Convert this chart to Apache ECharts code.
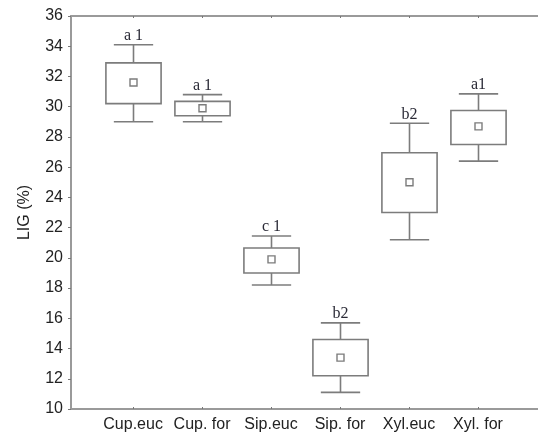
<!DOCTYPE html>
<html>
<head>
<meta charset="utf-8">
<script src="https://cdn.jsdelivr.net/npm/echarts@6/dist/echarts.min.js"></script>
<style>
  html, body { margin: 0; padding: 0; background: #fff; }
  #chart { width: 538px; height: 435px; }
</style>
</head>
<body>
<div id="chart"></div>
<script>
// Lignin content (LIG, %) per group: whiskers, box and mean marker
const categories = ['Cup.euc', 'Cup. for', 'Sip.euc', 'Sip. for', 'Xyl.euc', 'Xyl. for'];
const whiskerLow  = [29.0, 29.0, 18.2, 11.1, 21.2, 26.4];
const boxLow      = [30.2, 29.4, 19.0, 12.2, 23.0, 27.5];
const means       = [31.6, 29.9, 19.9, 13.4, 25.0, 28.7];
const boxHigh     = [32.9, 30.35, 20.65, 14.6, 26.95, 29.75];
const whiskerHigh = [34.1, 30.8, 21.45, 15.7, 28.9, 30.85];
const groupLetters = ['a 1', 'a 1', 'c 1', 'b2', 'b2', 'a1'];
const yTicks = [10, 12, 14, 16, 18, 20, 22, 24, 26, 28, 30, 32, 34, 36];

const positions = categories.map((_, i) => i + 1);
const data = categories.map((_, i) => [
  positions[i], whiskerLow[i], boxLow[i], means[i], boxHigh[i], whiskerHigh[i]
]);

const axisColor = '#9a9a9a';
const boxColor = '#7c7c7c';
const textColor = '#222';
const sans = 'Liberation Sans, Arial, sans-serif';

function renderBox(params, api) {
  const x = api.value(0);
  const pLo = api.coord([x, api.value(1)]);
  const pQ1 = api.coord([x, api.value(2)]);
  const pMean = api.coord([x, api.value(3)]);
  const pQ3 = api.coord([x, api.value(4)]);
  const pHi = api.coord([x, api.value(5)]);
  const boxW = api.size([0.8, 0])[0];
  const capW = api.size([0.57, 0])[0];
  const st = { stroke: boxColor, lineWidth: 1.6, fill: null };
  const cx = Math.round(pQ1[0]) + 0.5;
  const ln = (x1, y1, x2, y2) => ({ type: 'line', shape: { x1, y1, x2, y2 }, style: st });
  const m = 3.5;
  return {
    type: 'group',
    children: [
      ln(cx, pQ3[1], cx, pHi[1]),
      ln(cx, pQ1[1], cx, pLo[1]),
      ln(cx - capW / 2, pHi[1], cx + capW / 2, pHi[1]),
      ln(cx - capW / 2, pLo[1], cx + capW / 2, pLo[1]),
      { type: 'rect', shape: { x: cx - boxW / 2, y: pQ3[1], width: boxW, height: pQ1[1] - pQ3[1] },
        style: { stroke: boxColor, lineWidth: 1.6, fill: '#fff' } },
      { type: 'rect', shape: { x: cx - m, y: pMean[1] - m, width: 2 * m, height: 2 * m },
        style: { stroke: boxColor, lineWidth: 1.4, fill: '#fff' } },
      { type: 'text', x: cx, y: pHi[1] - 1,
        style: { text: groupLetters[params.dataIndex], fill: '#2a2a36',
                 font: '16px "Liberation Serif", "Times New Roman", serif',
                 align: 'center', verticalAlign: 'bottom' } }
    ]
  };
}

const chart = echarts.init(document.getElementById('chart'));
const xCommon = {
  type: 'value', min: 0.1, max: 6.87,
  splitLine: { show: false },
  axisLine: { show: true, lineStyle: { color: axisColor, width: 2 } },
  axisTick: { show: true, inside: true, length: 2, customValues: positions,
              lineStyle: { color: '#777', width: 1 } }
};
chart.setOption({
  animation: false,
  grid: { left: 71, right: 0, top: 16, bottom: 26 },
  xAxis: [
    Object.assign({}, xCommon, {
      position: 'bottom',
      axisLabel: { show: true, customValues: positions, margin: 8,
                   color: textColor, fontSize: 16, fontFamily: sans,
                   formatter: v => categories[Math.round(v) - 1] || '' }
    }),
    Object.assign({}, xCommon, { position: 'top', axisLabel: { show: false } })
  ],
  yAxis: {
    type: 'value', min: 10, max: 36, interval: 2,
    name: 'LIG (%)', nameLocation: 'middle', nameGap: 38,
    nameTextStyle: { color: textColor, fontSize: 16, fontFamily: sans },
    splitLine: { show: false },
    axisLine: { show: true, lineStyle: { color: axisColor, width: 2 } },
    axisTick: { show: true, length: 3, lineStyle: { color: '#777', width: 1 } },
    axisLabel: { margin: 8, color: textColor, fontSize: 16, fontFamily: sans,
                 customValues: yTicks }
  },
  series: [{
    type: 'custom',
    renderItem: renderBox,
    data: data,
    encode: { x: 0, y: [1, 2, 3, 4, 5] },
    clip: false
  }]
});
</script>
</body>
</html>
